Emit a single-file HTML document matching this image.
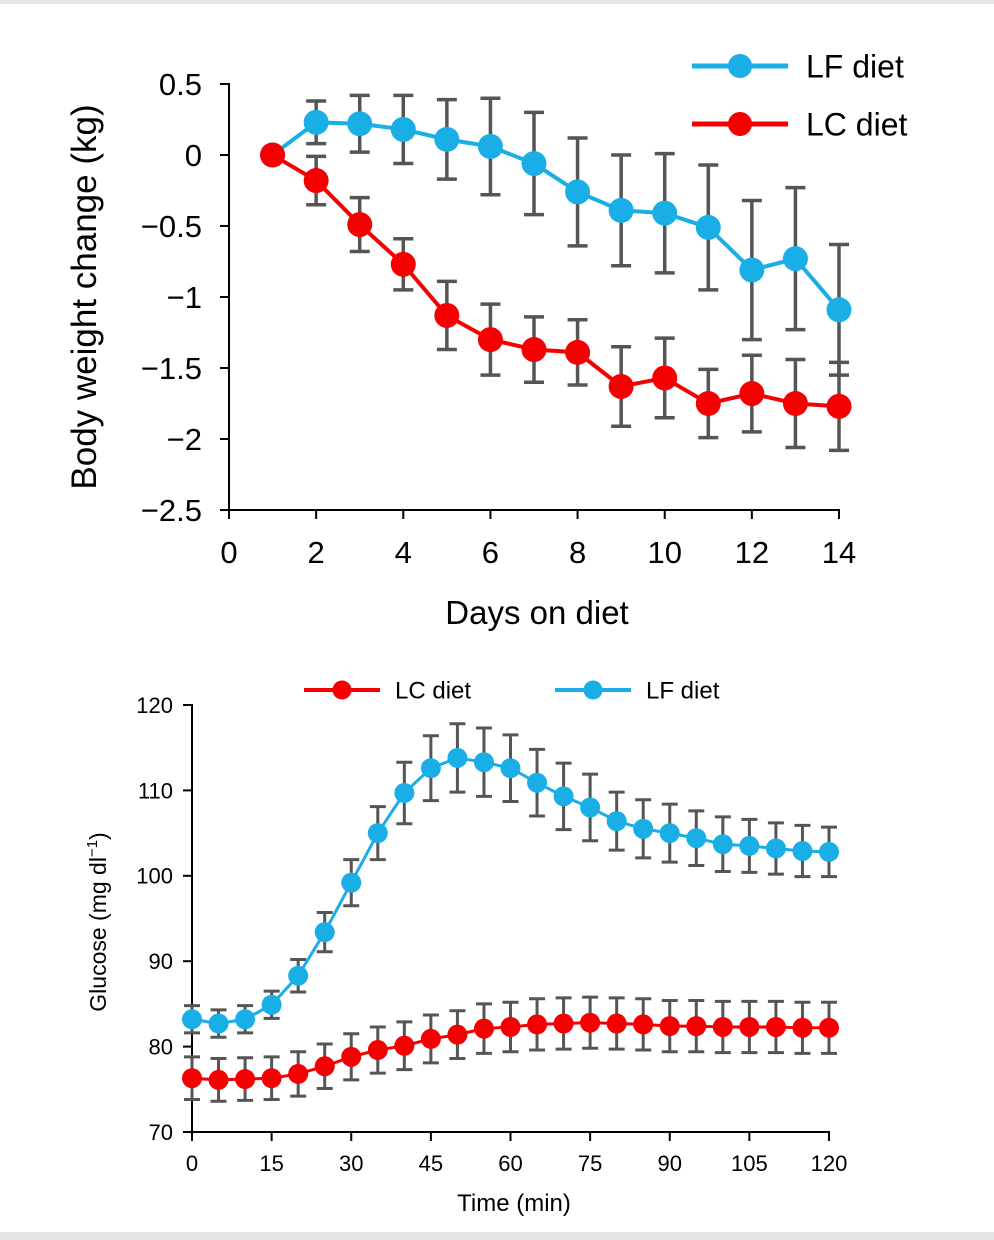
<!DOCTYPE html>
<html><head><meta charset="utf-8"><style>
body{margin:0;background:#fff;width:994px;height:1240px;overflow:hidden;font-family:"Liberation Sans",sans-serif}
svg{position:absolute;left:0;top:0}
</style></head><body>
<svg id="s" width="994" height="1240" font-family="Liberation Sans, sans-serif">
<rect x="0" y="0" width="994" height="4" fill="#e6e6e6"/>
<rect x="0" y="1232" width="994" height="8" fill="#e6e6e6"/>
</svg>
<script>
// Chart 1 data
const days=[1,2,3,4,5,6,7,8,9,10,11,12,13,14];
const lfWeight=[0,0.23,0.22,0.18,0.11,0.06,-0.06,-0.26,-0.39,-0.41,-0.51,-0.81,-0.73,-1.09];
const lfWeightErr=[0,0.15,0.2,0.24,0.28,0.34,0.36,0.38,0.39,0.42,0.44,0.49,0.5,0.46];
const lcWeight=[0,-0.18,-0.49,-0.77,-1.13,-1.30,-1.37,-1.39,-1.63,-1.57,-1.75,-1.68,-1.75,-1.77];
const lcWeightErr=[0,0.17,0.19,0.18,0.24,0.25,0.23,0.23,0.28,0.28,0.24,0.27,0.31,0.31];
const xTicks1=[0,2,4,6,8,10,12,14];
const yTicks1=[0.5,0,-0.5,-1,-1.5,-2,-2.5];
// Chart 2 data
const minutes=[0,5,10,15,20,25,30,35,40,45,50,55,60,65,70,75,80,85,90,95,100,105,110,115,120];
const lfGlucose=[83.2,82.7,83.2,84.9,88.3,93.4,99.2,105.0,109.7,112.6,113.8,113.3,112.6,110.9,109.3,108.0,106.4,105.5,105.0,104.4,103.7,103.5,103.2,102.9,102.8];
const lfGlucoseErr=[1.6,1.6,1.6,1.6,1.9,2.3,2.7,3.1,3.6,3.8,4.0,4.0,3.9,3.9,3.9,3.9,3.4,3.4,3.4,3.2,3.2,3.1,3.0,3.0,2.9];
const lcGlucose=[76.3,76.1,76.2,76.3,76.8,77.7,78.8,79.6,80.1,80.9,81.4,82.1,82.3,82.6,82.7,82.8,82.7,82.6,82.4,82.4,82.3,82.3,82.3,82.2,82.2];
const lcGlucoseErr=[2.5,2.5,2.5,2.5,2.6,2.6,2.7,2.7,2.8,2.8,2.8,2.9,2.9,3.0,3.0,3.0,3.0,3.0,3.0,3.0,3.0,3.0,3.0,3.0,3.0];
const xTicks2=[0,15,30,45,60,75,90,105,120];
const yTicks2=[70,80,90,100,110,120];

const NS='http://www.w3.org/2000/svg',S=document.getElementById('s');
function el(t,a,p){const e=document.createElementNS(NS,t);for(const k in a)e.setAttribute(k,a[k]);(p||S).appendChild(e);return e;}
function txt(s,a,p){const e=el('text',a,p);e.textContent=s;return e;}
const BLUE='#19aee6',RED='#f50000',GREY='#555';

function chart(o){
  const g=el('g',{});
  
  
  const X=v=>o.x0+(v-o.xmin)/(o.xmax-o.xmin)*(o.x1-o.x0);
  const Y=v=>o.y1-(v-o.ymin)/(o.ymax-o.ymin)*(o.y1-o.y0);
  const ax=el('path',{d:`M${o.x0} ${o.y0-1}V${o.y1}H${o.x1+1}`,stroke:'#000','stroke-width':2,fill:'none'},g);
  
  
  o.yt.forEach(v=>{
    el('line',{x1:o.x0-9,x2:o.x0,y1:Y(v),y2:Y(v),stroke:'#000','stroke-width':2},g);
    const t=txt(o.fmt(v),{x:o.x0-o.ylo,y:Y(v)+o.fs*0.36,'text-anchor':'end','font-size':o.fs},g);
    
    
  });
  o.xt.forEach(v=>{
    el('line',{x1:X(v),x2:X(v),y1:o.y1,y2:o.y1+9,stroke:'#000','stroke-width':2},g);
    const t=txt(String(v),{x:X(v),y:o.y1+o.xlo,'text-anchor':'middle','font-size':o.fs},g);
    
    
  });
  o.series.forEach(s=>{
    const sg=el('g',{},g);
    
    
    o.xs.forEach((x,i)=>{
      if(!s.e[i])return;
      const a=Y(s.v[i]+s.e[i]),b=Y(s.v[i]-s.e[i]),cx=X(x);
      const eb=el('path',{d:`M${cx} ${a}V${b}M${cx-o.cap} ${a}H${cx+o.cap}M${cx-o.cap} ${b}H${cx+o.cap}`,stroke:GREY,'stroke-width':o.ew,fill:'none'},sg);
      
      
    });
    el('polyline',{points:o.xs.map((x,i)=>X(x)+','+Y(s.v[i])).join(' '),stroke:s.c,'stroke-width':o.lw,fill:'none'},sg);
    o.xs.forEach((x,i)=>{
      const c=el('circle',{cx:X(x),cy:Y(s.v[i]),r:o.r,fill:s.c},sg);
      
      
    });
  });
  return g;
}
function legend(x,y,len,r,lw,c,label,fs,gap,name){
  const g=el('g',{});
  
  
  el('line',{x1:x,x2:x+len,y1:y,y2:y,stroke:c,'stroke-width':lw},g);
  el('circle',{cx:x+len/2,cy:y,r:r,fill:c},g);
  txt(label,{x:x+len+gap,y:y+fs*0.36,'font-size':fs},g);
}

chart({name:'weight-chart',x0:229,x1:839,y0:84,y1:510,xmin:0,xmax:14,ymin:-2.5,ymax:0.5,
  xt:xTicks1,yt:yTicks1,fs:31,ylo:27,xlo:53,cap:10,ew:3.5,lw:4,r:12.5,xs:days,
  fmt:v=>String(v).replace('-','\u2212'),
  series:[{name:'lf-series',v:lfWeight,e:lfWeightErr,c:BLUE},{name:'lc-series',v:lcWeight,e:lcWeightErr,c:RED}]});
let t=txt('Body weight change (kg)',{x:0,y:0,'font-size':35,'text-anchor':'middle',transform:'translate(96,297) rotate(-90)'});

t=txt('Days on diet',{x:537,y:624,'font-size':33,'text-anchor':'middle'});

legend(692,66,96,12,5,BLUE,'LF diet',32,18,'legend-lf');
legend(692,124,96,12,5,RED,'LC diet',32,18,'legend-lc');

chart({name:'glucose-chart',x0:192,x1:829,y0:705,y1:1132,xmin:0,xmax:120,ymin:70,ymax:120,
  xt:xTicks2,yt:yTicks2,fs:22,ylo:19,xlo:39,cap:8,ew:3,lw:3,r:10,xs:minutes,fmt:v=>String(v),
  series:[{name:'lc-glucose-series',v:lcGlucose,e:lcGlucoseErr,c:RED},{name:'lf-glucose-series',v:lfGlucose,e:lfGlucoseErr,c:BLUE}]});
t=el('text',{x:0,y:0,'font-size':23,'text-anchor':'middle',transform:'translate(106,922) rotate(-90)'});
t.innerHTML='Glucose (mg dl<tspan dy="-9" font-size="15">\u22121</tspan><tspan dy="9">)</tspan>';

t=txt('Time (min)',{x:514,y:1211,'font-size':24,'text-anchor':'middle'});

legend(304,690,76,9.5,4,RED,'LC diet',24,15,'legend-lc-glucose');
legend(555,690,76,9.5,4,BLUE,'LF diet',24,15,'legend-lf-glucose');
</script>
</body></html>
